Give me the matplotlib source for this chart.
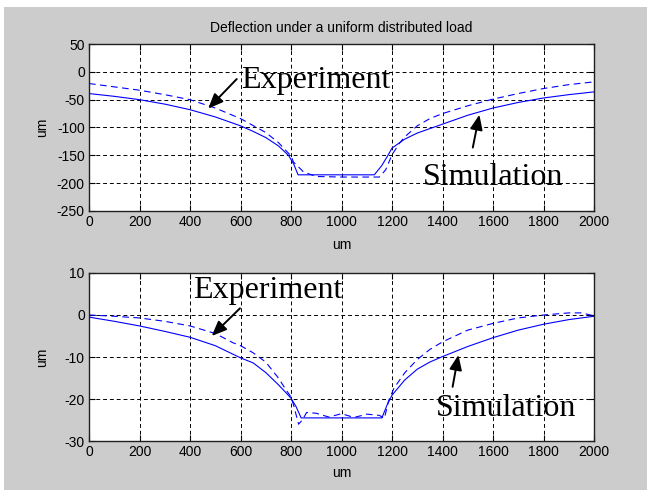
import matplotlib
matplotlib.use("Agg")
import matplotlib.pyplot as plt
from matplotlib.patches import Rectangle

# top panel: deflection (um) along x (um)
sim_top_x = [0, 100, 200, 300, 400, 500, 600, 650, 700, 750, 790, 810, 828, 1130, 1160, 1184, 1200, 1250, 1300, 1400, 1500, 1600, 1700, 1800, 1900, 2000]
sim_top_y = [-39, -44, -50, -58, -68, -81, -97, -107, -118, -133, -150, -165, -185, -185, -168, -150, -137, -121, -110, -94, -78, -65, -55, -47, -41, -36]
exp_top_x = [0, 100, 200, 300, 400, 500, 600, 700, 750, 800, 810, 850, 900, 1000, 1100, 1150, 1175, 1200, 1230, 1250, 1300, 1350, 1400, 1500, 1600, 1700, 1800, 1900, 2000]
exp_top_y = [-21, -27, -33, -41, -50, -65, -84, -109, -127, -151, -162, -180, -188, -189, -189, -189, -176, -149, -128, -117, -97, -84, -75, -61, -49, -39, -30, -23, -18]

# bottom panel
sim_bot_x = [0, 100, 200, 300, 400, 500, 600, 650, 700, 750, 780, 800, 820, 840, 1160, 1180, 1200, 1250, 1300, 1350, 1400, 1500, 1600, 1700, 1800, 1900, 2000]
sim_bot_y = [-0.5, -1.5, -2.6, -3.9, -5.3, -7.3, -10.2, -11.4, -13.7, -16.6, -18.5, -19.8, -21.8, -24.5, -24.5, -21.5, -19.1, -15.5, -12.9, -11.2, -9.9, -7.5, -5.4, -3.6, -2.2, -1.1, -0.3]
exp_bot_x = [0, 100, 200, 300, 400, 500, 570, 600, 650, 700, 750, 780, 800, 810, 830, 845, 862, 900, 950, 1000, 1050, 1100, 1150, 1170, 1186, 1208, 1250, 1300, 1350, 1400, 1500, 1600, 1700, 1800, 1900, 1950, 2000]
exp_bot_y = [0, -0.3, -0.7, -1.5, -2.6, -4.4, -6.6, -7.3, -9.0, -11.2, -15.0, -17.8, -19.5, -21.4, -26.0, -25.0, -23.2, -23.4, -24.3, -23.5, -24.4, -23.6, -23.9, -24.6, -20.5, -17.4, -13.8, -10.6, -8.2, -6.4, -3.6, -2.0, -0.7, 0.0, 0.5, 0.5, -0.2]

x_ticks = list(range(0, 2001, 200))
top_yticks = list(range(-250, 51, 50))
bot_yticks = list(range(-30, 11, 10))

BLUE = "#0000ff"
GRAY = "#cccccc"
TICK_FONT = "Liberation Sans"
NOTE_FONT = "Liberation Serif"

fig = plt.figure(figsize=(6.47, 4.90), dpi=100, facecolor="white")
fig.patches.append(Rectangle((4 / 647, 0), 1, 483 / 490, transform=fig.transFigure,
                             facecolor=GRAY, edgecolor="none", zorder=-10))

ax1 = fig.add_axes([89 / 647, 279 / 490, 505 / 647, 167 / 490])
ax2 = fig.add_axes([89 / 647, 49 / 490, 505 / 647, 168 / 490])


def style(ax, yticks, xlabel_y):
    ax.set_facecolor("white")
    ax.set_xlim(0, 2000)
    ax.set_ylim(yticks[0], yticks[-1])
    ax.set_xticks(x_ticks)
    ax.set_yticks(yticks)
    ax.set_xticklabels([str(v) for v in x_ticks], family=TICK_FONT, fontsize=10)
    ax.set_yticklabels([str(v) for v in yticks], family=TICK_FONT, fontsize=10)
    ax.tick_params(direction="in", length=4, width=0.8, top=True, right=True, pad=3)
    ax.grid(True, color="black", linestyle=(0, (4, 3)), linewidth=0.7)
    for sp in ax.spines.values():
        sp.set_linewidth(1.0)
        sp.set_color("#202020")
    ax.set_xlabel("um", family=TICK_FONT, fontsize=10)
    ax.set_ylabel("um", family=TICK_FONT, fontsize=10)
    ax.xaxis.set_label_coords(0.5, xlabel_y)
    ax.xaxis.label.set_va("center")
    ax.yaxis.set_label_coords(-0.093, 0.5)
    ax.yaxis.label.set_va("center")


style(ax1, top_yticks, -0.204)
style(ax2, bot_yticks, -0.19)

ax1.set_title("Deflection under a uniform distributed load", family=TICK_FONT, fontsize=10, pad=9)

ax1.plot(sim_top_x, sim_top_y, color=BLUE, linewidth=0.8)
ax1.plot(exp_top_x, exp_top_y, color=BLUE, linewidth=0.8, linestyle=(0, (6, 4)))
ax2.plot(sim_bot_x, sim_bot_y, color=BLUE, linewidth=0.8)
ax2.plot(exp_bot_x, exp_bot_y, color=BLUE, linewidth=0.8, linestyle=(0, (6, 4)))

arrow = dict(arrowstyle="-|>,head_length=0.6,head_width=0.25", color="black",
             lw=1.4, shrinkA=0, shrinkB=0, mutation_scale=15)

ax1.text(602, -29, "Experiment", family=NOTE_FONT, fontsize=23, ha="left", va="baseline")
ax1.annotate("", xy=(472, -66), xytext=(585, -13), arrowprops=arrow)
ax1.text(1322, -203, "Simulation", family=NOTE_FONT, fontsize=23, ha="left", va="baseline")
ax1.annotate("", xy=(1546, -77), xytext=(1520, -136), arrowprops=arrow)

ax2.text(413, 4.0, "Experiment", family=NOTE_FONT, fontsize=23, ha="left", va="baseline")
ax2.annotate("", xy=(486, -5), xytext=(598, 1.6), arrowprops=arrow)
ax2.text(1374, -24.0, "Simulation", family=NOTE_FONT, fontsize=23, ha="left", va="baseline")
ax2.annotate("", xy=(1463, -9.5), xytext=(1440, -17.1), arrowprops=arrow)

fig.savefig("out.png", dpi=100, facecolor=fig.get_facecolor())
